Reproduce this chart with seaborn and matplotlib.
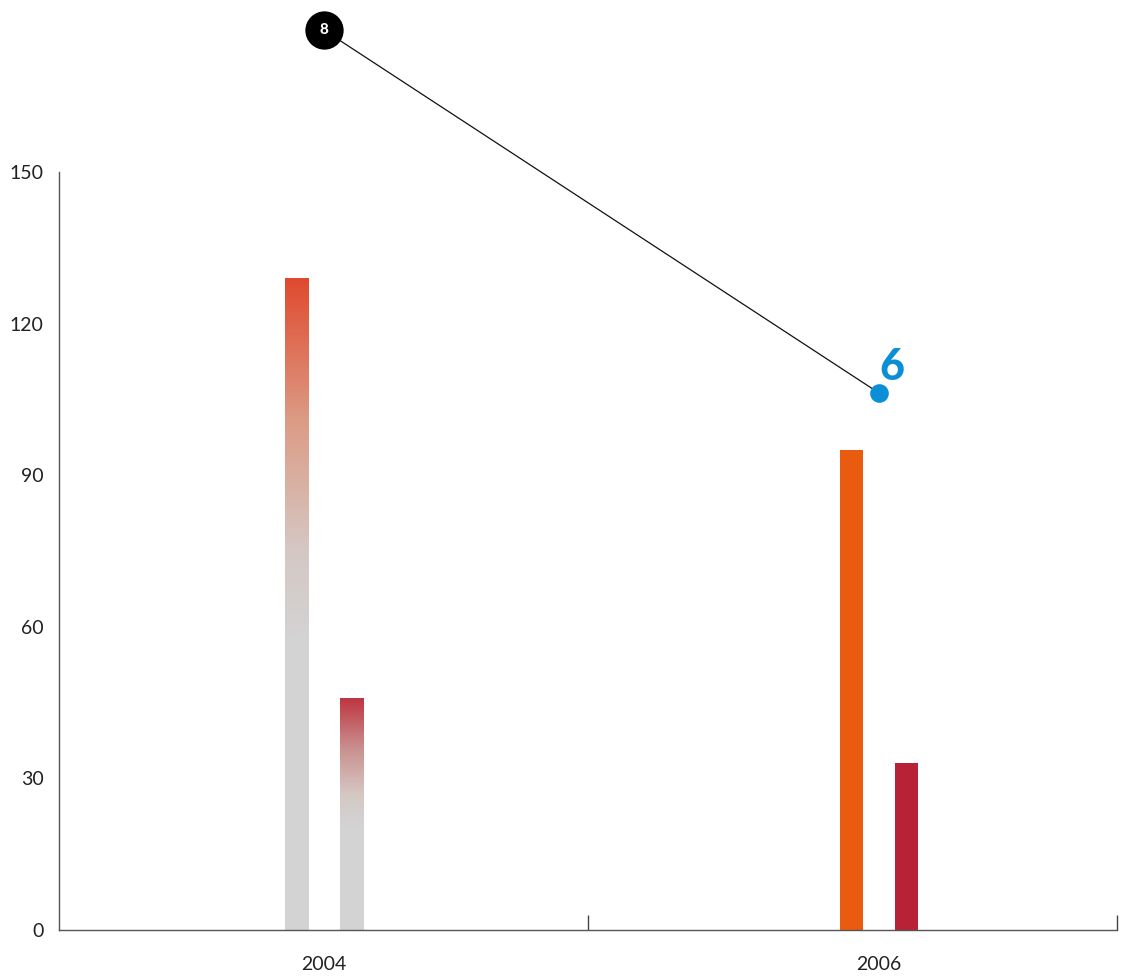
import numpy as np
import pandas as pd
import seaborn as sns
import matplotlib.pyplot as plt
from matplotlib.colors import LinearSegmentedColormap

# data
years = ['2004', '2006']
series_names = ['A', 'B']
values_a = [129, 95]
values_b = [46, 33]
marker_values = [8, 6]

sns.set_style('white')
plt.rcParams['font.family'] = ['Lato', 'DejaVu Sans']

df = pd.DataFrame({
    'year': years * 2,
    'series': ['A'] * 2 + ['B'] * 2,
    'value': values_a + values_b,
})

fig = plt.figure(figsize=(11.23, 9.80), dpi=100)
ax = fig.add_axes([59 / 1123, 1 - 930 / 980, (1117 - 59) / 1123, (930 - 172) / 980])

sns.barplot(data=df, x='year', y='value', hue='series', order=years,
            hue_order=series_names, width=0.198, gap=0.58, ax=ax,
            legend=False, saturation=1)

solid = {('A', 1): '#E95B0F', ('B', 1): '#B82236'}
grad_top = {('A', 0): '#E04A2F', ('B', 0): '#BE3440'}
grad_mid = {('A', 0): '#DC9C86', ('B', 0): '#C9908F'}
gray = '#D3D3D3'

for s, cont in zip(series_names, ax.containers):
    for i, bar in enumerate(cont):
        bar.set_edgecolor('none')
        if (s, i) in solid:
            bar.set_facecolor(solid[(s, i)])
        else:
            # gradient: gray bottom, colour fading in over the top part
            cmap = LinearSegmentedColormap.from_list(
                'g', [(0, gray), (0.45, gray), (0.58, '#D5C8C4'),
                      (0.78, grad_mid[(s, i)]), (1, grad_top[(s, i)])])
            x0, y0 = bar.get_x(), bar.get_y()
            w, h = bar.get_width(), bar.get_height()
            grad = np.linspace(0, 1, 256).reshape(-1, 1)
            im = ax.imshow(grad, cmap=cmap, origin='lower', aspect='auto',
                           extent=(x0, x0 + w, y0, y0 + h), zorder=bar.get_zorder())
            im.set_clip_path(bar)
            bar.set_facecolor('none')

ax.set_xlim(-0.4775, 1.4288)
ax.set_ylim(0, 150)
ax.set_yticks([0, 30, 60, 90, 120, 150])
ax.tick_params(axis='y', length=0, pad=11, labelsize=14, labelcolor='#222222')
ax.set_xticks([0, 1])
ax.set_xticklabels(years)
ax.tick_params(axis='x', length=0, pad=19, labelsize=14, labelcolor='#222222')
ax.set_xticks([0.4757, 1.4288], minor=True)
ax.tick_params(axis='x', which='minor', bottom=True, direction='in', length=11,
               width=1, color='#444444')
ax.set_xlabel('')
ax.set_ylabel('')
sns.despine(ax=ax, top=True, right=True)
for sp in ['left', 'bottom']:
    ax.spines[sp].set_color('#555555')
    ax.spines[sp].set_linewidth(1)

# overlay marker line on a secondary scale
ax2 = ax.twinx()
ax2.set_ylim(3.041, 7.218)
ax2.axis('off')
sns.lineplot(x=[0, 1], y=marker_values, ax=ax2, color='#111111', linewidth=0.9)
for ln in ax2.lines:
    ln.set_clip_on(False)
ax2.scatter([0], [marker_values[0]], s=760, color='black', zorder=5, clip_on=False,
            linewidths=0)
ax2.text(0, marker_values[0], str(marker_values[0]), color='white', fontsize=11,
         fontweight='black', ha='center', va='center', zorder=6, clip_on=False)
ax2.scatter([1], [marker_values[1]], s=180, color='#0A8FD6', zorder=5, clip_on=False,
            linewidths=0)
ax2.annotate(str(marker_values[1]), (1, marker_values[1]), xytext=(0, 4),
             textcoords='offset points', color='#0A8FD6', fontsize=31,
             fontweight='black', ha='left', va='bottom', zorder=6)

fig.savefig('out.png', dpi=100)
